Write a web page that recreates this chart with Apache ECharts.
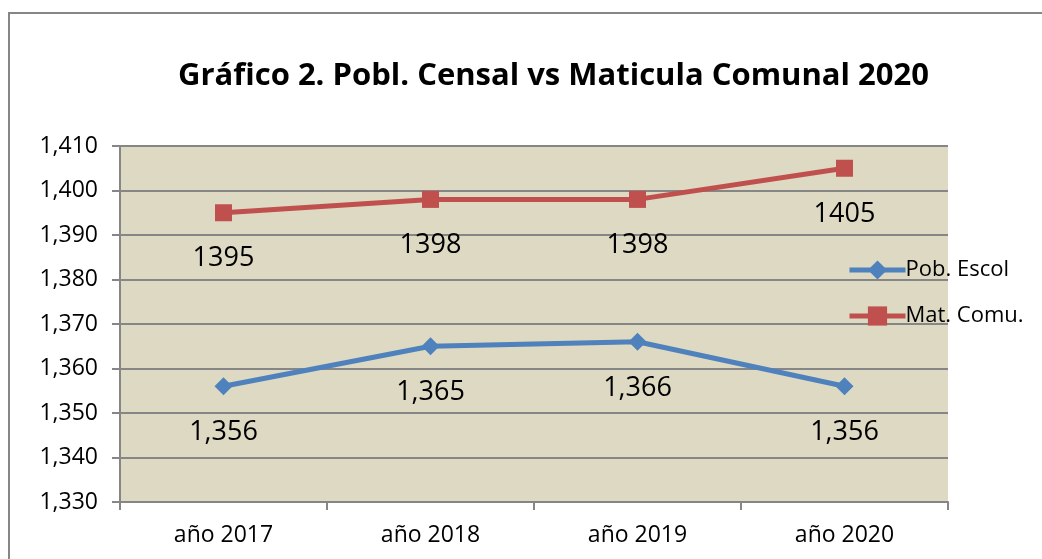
<!DOCTYPE html>
<html>
<head>
<meta charset="utf-8">
<script src="https://cdn.jsdelivr.net/npm/echarts@6/dist/echarts.min.js"></script>
<style>
html,body{margin:0;padding:0;background:#fff;}
#chart{width:1042px;height:559px;}
</style>
</head>
<body>
<div id="chart"></div>
<script>
const categories = ['año 2017', 'año 2018', 'año 2019', 'año 2020'];
const pobEscol = [1356, 1365, 1366, 1356];
const matComu = [1395, 1398, 1398, 1405];
const seriesNames = ['Pob. Escol', 'Mat. Comu.'];
const titleText = 'Gráfico 2. Pobl. Censal vs Maticula Comunal 2020';
const yMin = 1330, yMax = 1410, yStep = 10;

const FONT = '"Open Sans", "Noto Sans", sans-serif';
const fmtComma = v => String(v).replace(/\B(?=(\d{3})+(?!\d))/g, ',');

const chart = echarts.init(document.getElementById('chart'), null, {renderer: 'canvas'});
chart.setOption({
  backgroundColor: '#ffffff',
  animation: false,
  title: {
    text: titleText,
    left: 173,
    top: 56,
    textStyle: {fontFamily: FONT, fontWeight: 'bold', fontSize: 31, color: '#000'}
  },
  legend: {
    orient: 'vertical',
    left: 842,
    top: 254,
    itemWidth: 56,
    itemHeight: 24,
    itemGap: 24,
    lineStyle: {width: 5},
    textStyle: {fontFamily: FONT, fontSize: 22, color: '#000', padding: [0, 0, 0, -5]},
    data: seriesNames
  },
  grid: {left: 120, right: 94, top: 146, bottom: 57, show: true, backgroundColor: '#DDD9C3', borderWidth: 0},
  xAxis: {
    type: 'category',
    data: categories,
    boundaryGap: true,
    axisLine: {lineStyle: {color: '#868686', width: 2}},
    axisTick: {show: true, length: 8, lineStyle: {color: '#868686', width: 2}},
    axisLabel: {fontFamily: FONT, fontSize: 23, color: '#000', margin: 22}
  },
  yAxis: {
    type: 'value',
    min: yMin, max: yMax, interval: yStep,
    axisLine: {show: true, lineStyle: {color: '#868686', width: 2}},
    axisTick: {show: true, length: 8, lineStyle: {color: '#868686', width: 2}},
    splitLine: {lineStyle: {color: '#868686', width: 2}},
    axisLabel: {fontFamily: FONT, fontSize: 23, color: '#000', margin: 22, formatter: v => fmtComma(v)}
  },
  graphic: [
    {type: 'line', shape: {x1: 9, y1: 13, x2: 9, y2: 559}, style: {stroke: '#868686', lineWidth: 2}},
    {type: 'line', shape: {x1: 8, y1: 13, x2: 1042, y2: 13}, style: {stroke: '#868686', lineWidth: 2}}
  ],
  series: [
    {
      name: seriesNames[0], type: 'line', data: pobEscol,
      symbol: 'diamond', symbolSize: 18,
      lineStyle: {color: '#4F81BD', width: 5},
      itemStyle: {color: '#4F81BD'},
      label: {show: true, position: 'bottom', distance: 24, fontFamily: FONT, fontSize: 27, color: '#000',
              formatter: p => fmtComma(p.value)}
    },
    {
      name: seriesNames[1], type: 'line', data: matComu,
      symbol: 'rect', symbolSize: 17,
      lineStyle: {color: '#C0504D', width: 5},
      itemStyle: {color: '#C0504D'},
      label: {show: true, position: 'bottom', distance: 24, fontFamily: FONT, fontSize: 27, color: '#000',
              formatter: p => String(p.value)}
    }
  ]
});
</script>
</body>
</html>
